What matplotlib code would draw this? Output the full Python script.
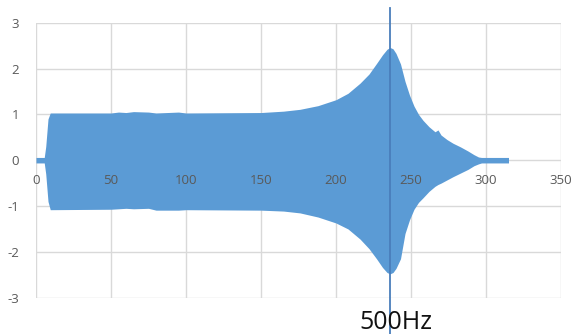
import matplotlib
matplotlib.use('Agg')
import matplotlib.pyplot as plt

# envelope (x, upper, lower)
env_x = [0, 5.5, 6.5, 8, 9.5, 50, 55, 60, 65, 75, 80, 95, 100, 150, 165, 176, 188, 200,
         208, 216, 222, 227, 231, 234, 236, 238, 240, 243, 246, 249, 252, 255, 258, 262,
         266, 268, 270, 274, 278, 283, 288, 292, 295, 297, 315]
env_hi = [0.06, 0.06, 0.3, 0.9, 1.03, 1.03, 1.05, 1.04, 1.06, 1.05, 1.03, 1.05, 1.03, 1.04,
          1.07, 1.11, 1.19, 1.32, 1.46, 1.68, 1.88, 2.11, 2.3, 2.42, 2.46, 2.43, 2.33, 2.1,
          1.72, 1.42, 1.18, 1.0, 0.87, 0.73, 0.62, 0.66, 0.55, 0.45, 0.37, 0.29, 0.2, 0.12,
          0.07, 0.06, 0.06]
env_lo = [-0.06, -0.06, -0.3, -0.9, -1.08, -1.07, -1.06, -1.05, -1.06, -1.05, -1.09, -1.09,
          -1.08, -1.09, -1.11, -1.15, -1.24, -1.37, -1.5, -1.72, -1.93, -2.15, -2.34, -2.45,
          -2.48, -2.45, -2.36, -2.15, -1.6, -1.3, -1.07, -0.92, -0.82, -0.68, -0.57, -0.53,
          -0.5, -0.43, -0.36, -0.28, -0.2, -0.12, -0.08, -0.06, -0.06]

xticks = [0, 50, 100, 150, 200, 250, 300, 350]
yticks = [-3, -2, -1, 0, 1, 2, 3]
marker_x = 236
marker_label = '500Hz'

fig = plt.figure(figsize=(5.86, 3.34), dpi=100)
ax = fig.add_axes([36 / 586, 36.3 / 334, 525 / 586, 275 / 334])

ax.set_xlim(0, 350)
ax.set_ylim(-3, 3)
for s in ax.spines.values():
    s.set_visible(False)

for x in xticks:
    ax.axvline(x, color='#d9d9d9', lw=1, zorder=0)
for y in yticks:
    ax.axhline(y, color='#d9d9d9', lw=1, zorder=0)

ax.fill_between(env_x, env_lo, env_hi, color='#5b9bd5', lw=0, zorder=2)

ax.set_xticks([])
ax.set_yticks(yticks)
ax.set_yticklabels([str(y) for y in yticks], color='#595959', fontsize=9.5, fontfamily='Open Sans')
ax.tick_params(axis='y', length=0, pad=12)

# x labels sit just under the 0 line, like Excel
for x in xticks:
    ax.text(x, -0.45, str(x), ha='center', va='center', color='#595959',
            fontsize=9.5, fontfamily='Open Sans', zorder=3)

ax.plot([marker_x, marker_x], [3.32, -3.8], color='#4a7ebb', lw=1.3, clip_on=False, zorder=4)
ax.text(marker_x + 4, -3.55, marker_label, ha='center', va='center', fontsize=18,
        fontfamily='Open Sans', color='#111111', clip_on=False, zorder=5)

fig.savefig('out.png', dpi=100)
